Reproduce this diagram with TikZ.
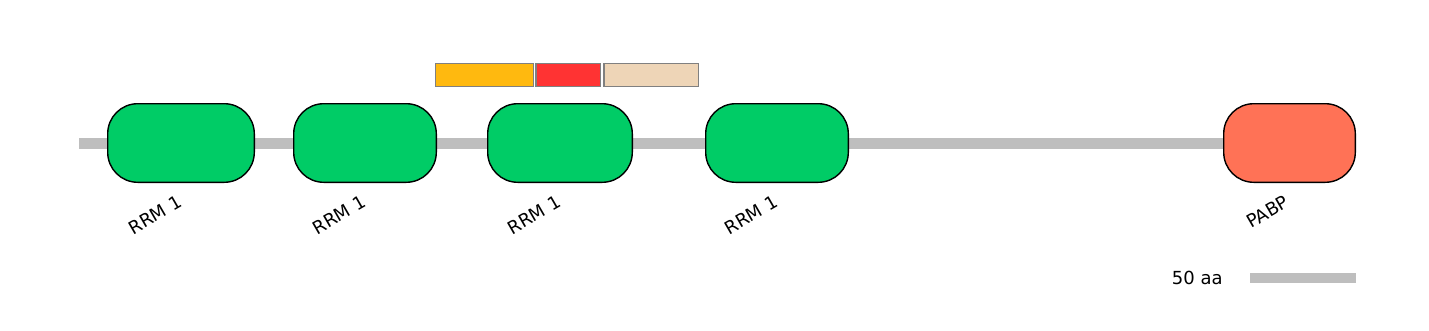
\documentclass[tikz,border=0pt]{standalone}
\usepackage{fontspec}
\setmainfont{DejaVu Sans}
\usetikzlibrary{positioning, backgrounds}

\definecolor{rrmgreen}{RGB}{0,204,102}
\definecolor{pabpcoral}{RGB}{255,114,86}
\definecolor{motifgold}{RGB}{255,185,15}
\definecolor{motifred}{RGB}{255,51,51}
\definecolor{motifwheat}{RGB}{238,213,183}
\definecolor{chaingray}{RGB}{190,190,190}

\begin{document}
\begin{tikzpicture}[
  x=1pt, y=1pt,
  font=\fontsize{18}{21}\selectfont,
  dombox/.style={draw, line width=1.4pt, rounded corners=30pt,
                 minimum height=78.6pt, inner sep=0pt},
  motif/.style={draw=gray, line width=1.4pt, minimum height=22.6pt, inner sep=0pt},
  lab/.style={rotate=30, inner sep=0pt},
  backbone/.style={line width=11pt, chaingray}
]
\path[use as bounding box] (0,0) rectangle (1429,330);

\node[dombox, fill=rrmgreen, minimum width=146.6pt] (rrma) at (181,187) {};
\node[dombox, fill=rrmgreen, minimum width=142.6pt] (rrmb) at (365,187) {};
\node[dombox, fill=rrmgreen, minimum width=144.6pt] (rrmc) at (560,187) {};
\node[dombox, fill=rrmgreen, minimum width=142.6pt] (rrmd) at (777,187) {};
\node[dombox, fill=pabpcoral, minimum width=131.6pt] (pabp) at (1289.5,187) {};

% motif strip above the second and third domains
\node[motif, fill=motifgold, minimum width=97.6pt] (gold) at (484.5,255) {};
\node[motif, fill=motifred, minimum width=64.6pt, right=1.4pt of gold] (red) {};
\node[motif, fill=motifwheat, minimum width=94.6pt, right=2pt of red] (wheat) {};

\node[lab] at ([xshift=-26pt, yshift=-32pt]rrma.south) {RRM 1};
\node[lab] at ([xshift=-26pt, yshift=-32pt]rrmb.south) {RRM 1};
\node[lab] at ([xshift=-26pt, yshift=-32pt]rrmc.south) {RRM 1};
\node[lab] at ([xshift=-26pt, yshift=-32pt]rrmd.south) {RRM 1};
\node[lab] at ([xshift=-22pt, yshift=-29pt]pabp.south) {PABP};

\coordinate (nterm) at (79,187);
\begin{scope}[on background layer]
\draw[backbone] (nterm) -- (pabp.west);
\end{scope}

% scale bar
\node[fill=chaingray, minimum width=106pt, minimum height=10pt, inner sep=0pt] (scalebar) at (1303,52) {};
\node[left=27pt of scalebar, inner sep=0pt] (scaletext) {50 aa};

\end{tikzpicture}
\end{document}
